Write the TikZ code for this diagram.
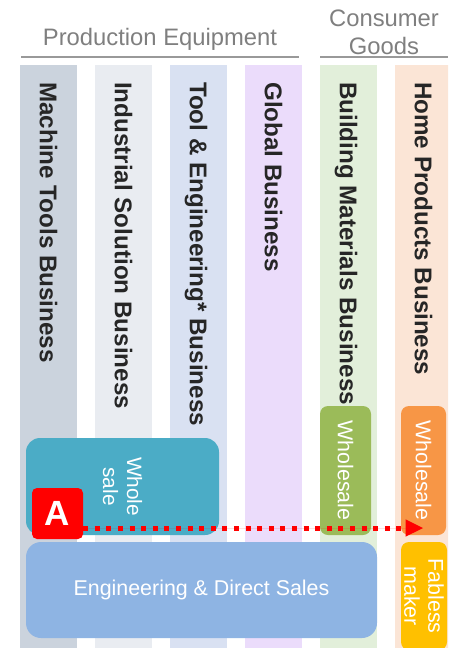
\documentclass[tikz,border=0pt]{standalone}
\usepackage{fontspec}
\setmainfont{Liberation Sans}
\usetikzlibrary{arrows.meta,positioning}

\definecolor{machinecol}{HTML}{CBD3DD}
\definecolor{industrycol}{HTML}{E9ECF1}
\definecolor{toolcol}{HTML}{D9E1F2}
\definecolor{globalcol}{HTML}{EBDCFB}
\definecolor{buildcol}{HTML}{E2EFDA}
\definecolor{homecol}{HTML}{FBE5D6}
\definecolor{darktext}{HTML}{262626}
\definecolor{headgray}{HTML}{7F7F7F}
\definecolor{wholeteal}{HTML}{4BACC6}
\definecolor{engblue}{HTML}{8EB4E3}
\definecolor{wholegreen}{HTML}{9BBB59}
\definecolor{wholeorange}{HTML}{F79646}
\definecolor{fablessyellow}{HTML}{FFC000}

\begin{document}
\begin{tikzpicture}[
    x=1pt, y=-1pt,
    column/.style={rectangle, inner sep=0pt, minimum width=57pt, minimum height=590pt, anchor=north},
    colname/.style={rotate=-90, anchor=base west, inner sep=0pt, text=darktext, font=\fontsize{24.2}{28}\selectfont\bfseries},
    header/.style={align=center, inner sep=0pt, text=headgray, font=\fontsize{23.8}{28}\selectfont},
    headline/.style={draw=headgray!80, line width=1.2pt},
    salesbox/.style={rectangle, inner sep=0pt, rounded corners=8pt, text=white, align=center, font=\fontsize{21.4}{24}\selectfont},
    marker/.style={rectangle, fill=red, rounded corners=5pt, minimum size=51pt, inner sep=0pt, text=white, font=\fontsize{35}{40}\selectfont\bfseries},
    arrow/.style={-{Triangle[length=18pt,width=16pt]}, draw=red, fill=red, line width=5pt, dash pattern=on 5pt off 6.6pt}
]
\clip (0,0) rectangle (448,648);

% Business columns
\node [column, fill=machinecol] (col1) at (48.5,65) {};
\node [column, fill=industrycol] (col2) at (123.5,65) {};
\node [column, fill=toolcol] (col3) at (198.5,65) {};
\node [column, fill=globalcol] (col4) at (273.5,65) {};
\node [column, fill=buildcol] (col5) at (348.5,65) {};
\node [column, fill=homecol] (col6) at (423.5,65) {};

\node [colname] (mtname) at ([xshift=-8.7pt, yshift=-17pt]col1.north) {Machine Tools Business};
\node [colname] (isname) at ([xshift=-8.7pt, yshift=-17pt]col2.north) {Industrial Solution Business};
\node [colname] (tename) at ([xshift=-8.7pt, yshift=-17pt]col3.north) {Tool \& Engineering* Business};
\node [colname] (glname) at ([xshift=-8.7pt, yshift=-17pt]col4.north) {Global Business};
\node [colname] (bmname) at ([xshift=-8.7pt, yshift=-17pt]col5.north) {Building Materials Business};
\node [colname] (hpname) at ([xshift=-8.7pt, yshift=-17pt]col6.north) {Home Products Business};

% Segment headers
\node [header] (prodhead) at (160,39) {Production Equipment};
\node [header] (conshead) at (384,32) {Consumer\\Goods};
\draw [headline] (21,57) -- (299,57);
\draw [headline] (320,57) -- (448,57);

% Sales channels
\node [salesbox, fill=wholeteal, rotate=-90, minimum width=97pt, minimum height=193pt, rounded corners=14pt, font=\fontsize{20.8}{24}\selectfont] (ws1) at (122.5,486.5) {Whole\\sale};
\node [salesbox, fill=engblue, minimum width=351pt, minimum height=96pt, rounded corners=15pt] (eng) at (201.5,590) {Engineering \& Direct Sales};
\node [salesbox, fill=wholegreen, rotate=-90, minimum width=129pt, minimum height=51pt] (ws2) at (345.5,470.5) {Wholesale};
\node [salesbox, fill=wholeorange, rotate=-90, minimum width=129pt, minimum height=45pt] (ws3) at (423.5,470.5) {Wholesale};
\node [salesbox, fill=fablessyellow, rotate=-90, minimum width=108pt, minimum height=46pt] (fab) at (424,596) {Fabless\\maker};

% Marker and flow
\node [marker] (mark) at (57.5,513.5) {A};
\coordinate (arrowend) at (423.5,528);
\draw [arrow] (mark.east |- arrowend) -- (arrowend);

\end{tikzpicture}
\end{document}
